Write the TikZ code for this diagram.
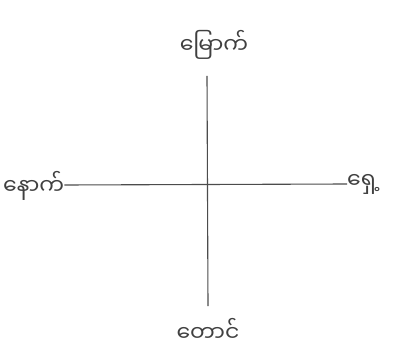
\documentclass[tikz,border=0pt]{standalone}
\usepackage{fontspec}
\newfontfamily\myan[Script=Myanmar]{Noto Sans Myanmar UI}
\begin{document}
\begin{tikzpicture}[x=1pt,y=-1pt,
  lbl/.style={font=\myan\fontsize{22}{26}\selectfont, text=black!75, inner sep=0pt},
  axis/.style={draw=black!70, line width=1.1pt}]
\useasboundingbox (0,0) rectangle (395,355);
\fill[white] (0,0) rectangle (395,355);
\node[lbl] (n) at (214,45) {မြောက်};
\node[lbl] (s) at (208,330) {တောင်};
\node[lbl,anchor=west] (w) at (3,186) {နောက်};
\node[lbl,anchor=west] (e) at (347,184) {ရှေ့};
\coordinate (ntop) at (207,76);
\coordinate (sbot) at (208,306);
\coordinate (eend) at (347,184);
\draw[axis] (ntop) -- (sbot);
\draw[axis] (w.east |- 0,185) -- (eend);
\end{tikzpicture}
\end{document}
